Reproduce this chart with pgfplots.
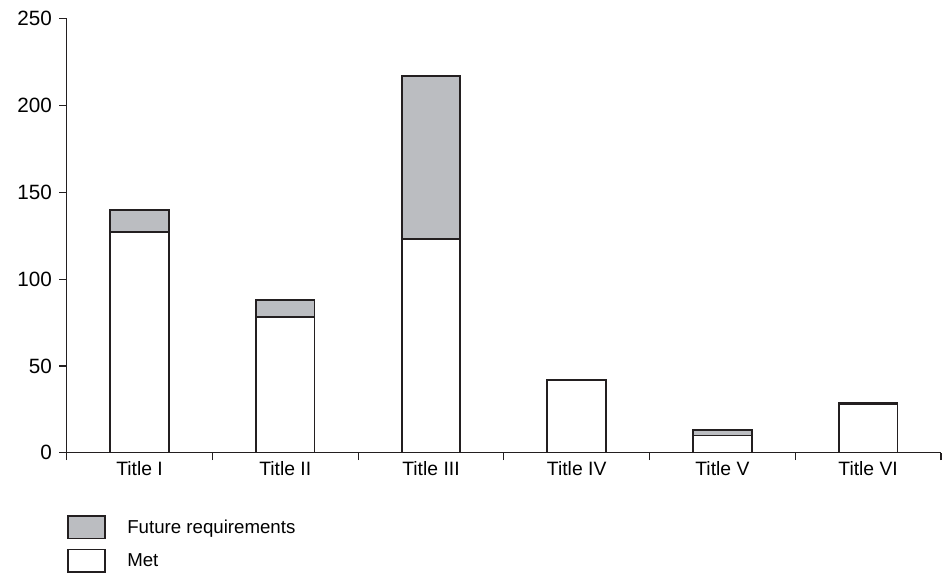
\documentclass[border=0pt]{standalone}
\usepackage{pgfplots}
\pgfplotsset{compat=1.18}
\usepackage{fontspec}
\setmainfont{Liberation Sans}
\definecolor{barline}{RGB}{35,31,32}
\definecolor{futgray}{RGB}{187,189,193}
\begin{document}
\begin{tikzpicture}
\path[use as bounding box] (-50pt,-90.5pt) rectangle (663pt,339.5pt);
\begin{axis}[
  scale only axis,
  width=655.5pt, height=325.5pt,
  at={(0,0)}, anchor=south west,
  ybar stacked,
  bar width=44pt,
  xmin=-0.5, xmax=5.5,
  ymin=0, ymax=250,
  axis lines*=left,
  axis line style={barline, line width=0.8pt},
  tick style={barline, line width=0.8pt},
  tick align=outside,
  major tick length=5.5pt,
  ytick={0,50,...,250},
  yticklabel style={font=\fontsize{15.5}{18}\selectfont, xshift=-2pt},
  xtick={-0.5,0.5,...,5.5},
  xticklabels={},
  extra x ticks={0,1,2,3,4,5},
  extra x tick labels={Title I,Title II,Title III,Title IV,Title V,Title VI},
  extra x tick style={major tick length=0pt, tick label style={font=\fontsize{14.5}{17}\selectfont, yshift=-3pt}},
  /pgf/number format/assume math mode=true,
  reverse legend,
  legend style={at={(0,-46.5pt)}, anchor=north west, draw=none, fill=none,
    inner sep=0pt, font=\fontsize{14}{16}\selectfont, row sep=7pt},
  legend cell align=left,
  legend image code/.code={\draw[#1, line width=1.2pt] (0pt,-8.5pt) rectangle (28pt,8.5pt);
    \path (42pt,0pt);},
]
\addplot[draw=barline, fill=white, line width=1.3pt] coordinates {(0,127) (1,78) (2,123) (3,42) (4,10) (5,28)};
\addlegendentry{Met}
\addplot[draw=barline, fill=futgray, line width=1.3pt] coordinates {(0,13) (1,10) (2,94) (3,0) (4,3) (5,1)};
\addlegendentry{Future requirements}
\end{axis}
\end{tikzpicture}
\end{document}
